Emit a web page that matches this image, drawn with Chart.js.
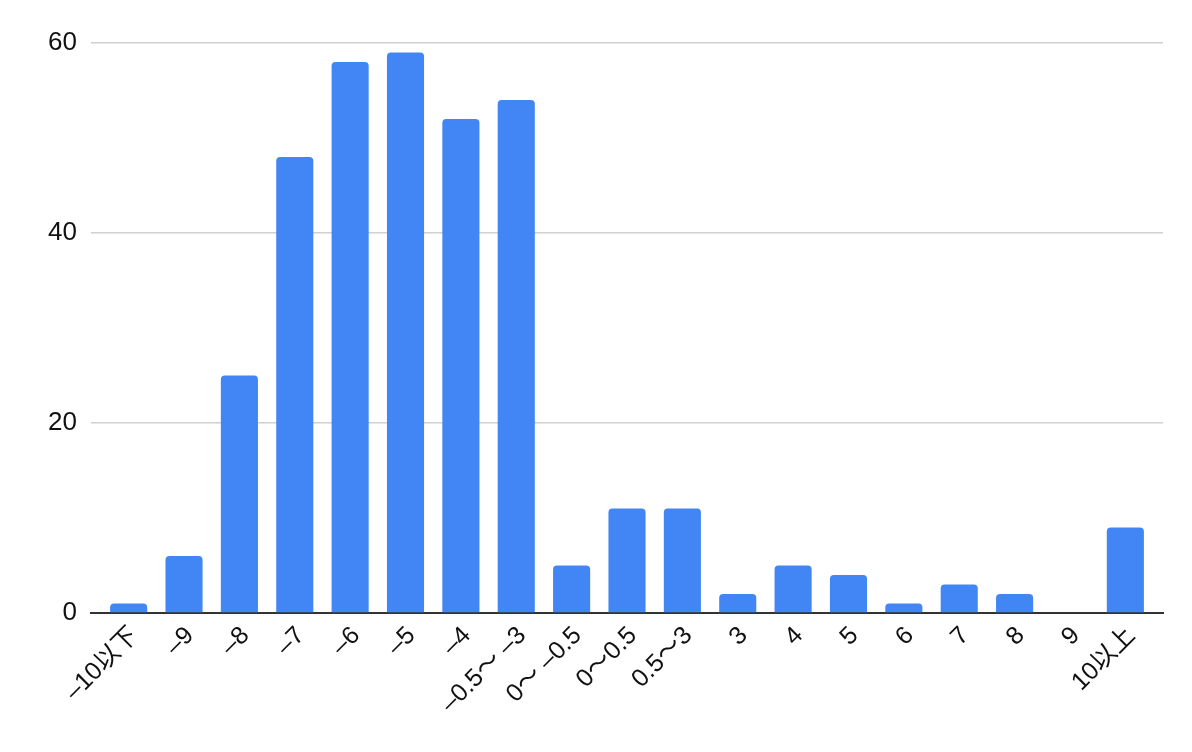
<!DOCTYPE html>
<html>
<head>
<meta charset="utf-8">
<script src="https://cdn.jsdelivr.net/npm/chart.js@4.4.1/dist/chart.umd.min.js"></script>
<style>
  html, body { margin: 0; padding: 0; background: #fff; }
  #wrap { width: 1192px; height: 752px; position: relative; }
</style>
</head>
<body>
<div id="wrap"><canvas id="grafico"></canvas></div>
<script>
// Datos del gráfico
const categorias = ['–10以下', '–9', '–8', '–7', '–6', '–5', '–4', '–0.5〜 –3', '0〜 –0.5', '0〜0.5', '0.5〜3', '3', '4', '5', '6', '7', '8', '9', '10以上'];
const valores = [1, 6, 25, 48, 58, 59, 52, 54, 5, 11, 11, 2, 5, 4, 1, 3, 2, 0, 9];
const ticksY = [0, 20, 40, 60];

const fuente = "Arial, 'Liberation Sans', 'Noto Sans CJK JP', sans-serif";

// Construir los puntos (x = índice de la categoría)
const puntos = valores.map((v, i) => ({ x: i, y: v }));

const config = {
  type: 'bar',
  data: {
    datasets: [{
      label: 'Cantidad',
      data: puntos,
      backgroundColor: '#4285f4',
      borderWidth: 0,
      borderRadius: 4,
      borderSkipped: 'start',
      barPercentage: 0.67,
      categoryPercentage: 1
    }]
  },
  options: {
    responsive: false,
    animation: false,
    layout: { padding: { top: 43, right: 29, left: 0, bottom: 0 } },
    plugins: {
      legend: { display: false },
      tooltip: { enabled: false }
    },
    scales: {
      x: {
        type: 'linear',
        min: -0.68,
        max: 18.68,
        offset: false,
        afterBuildTicks: (scale) => {
          scale.ticks = categorias.map((c, i) => ({ value: i }));
        },
        afterFit: (scale) => { scale.height = 139; },
        ticks: {
          autoSkip: false,
          minRotation: 45,
          maxRotation: 45,
          padding: 8,
          labelOffset: 6,
          color: '#111',
          font: { family: fuente, size: 25 },
          callback: (v) => categorias[v]
        },
        grid: { display: false, drawTicks: false },
        border: { display: true, color: '#333', width: 2 }
      },
      y: {
        min: 0,
        max: 60,
        afterBuildTicks: (scale) => {
          scale.ticks = ticksY.map(v => ({ value: v }));
        },
        afterFit: (scale) => { scale.width = 91; },
        ticks: {
          padding: 14,
          color: '#111',
          font: { family: fuente, size: 26 }
        },
        grid: { color: '#d0d0d0', lineWidth: 1.5, drawTicks: false },
        border: { display: false }
      }
    }
  }
};

const ctx = document.getElementById('grafico');
ctx.width = 1192;
ctx.height = 752;
const miGrafico = new Chart(ctx, config);
</script>
</body>
</html>
